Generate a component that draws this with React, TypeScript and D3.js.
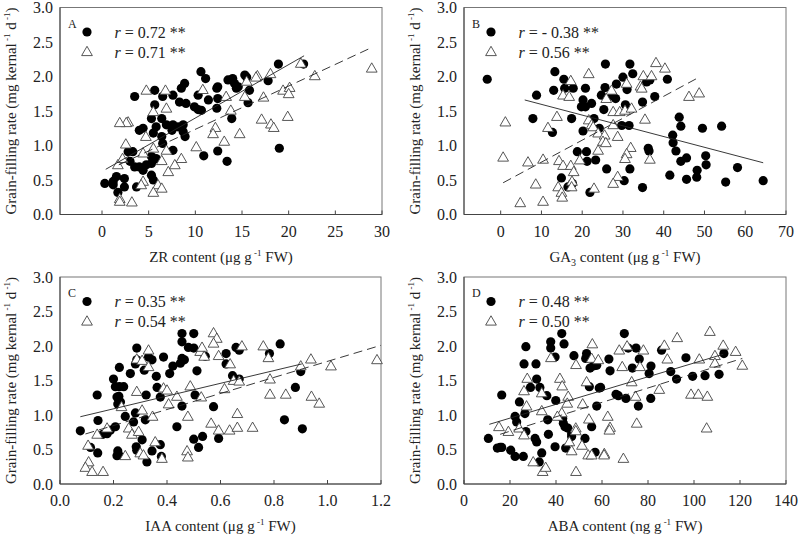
import React from "react";
import * as d3 from "d3";

// ---------- Data ----------
const aFilled: [number, number][] = [
  [3.5,1.71],[5.65,1.80],[5.65,1.59],[6.5,1.71],[7.6,1.73],[8.5,1.83],[8.85,1.90],[8.3,1.63],[9.0,1.61],
  [4.0,1.22],[4.4,1.25],[5.3,1.39],[6.4,1.39],[5.8,1.27],[5.5,1.18],[6.9,1.30],[6.4,1.13],[7.6,1.30],[8.15,1.27],[8.7,1.30],[7.5,1.22],[8.7,1.20],[8.9,1.13],[6.5,1.03],[7.6,0.93],
  [2.8,0.91],[3.3,0.91],[3.0,0.77],[3.5,0.69],[4.0,0.69],[4.75,0.72],[4.4,0.64],[5.3,0.74],[5.3,0.84],[5.8,0.81],[5.3,0.57],[5.5,0.50],
  [0.3,0.45],[1.2,0.48],[1.55,0.55],[2.4,0.52],[1.2,0.43],[1.7,0.32],[2.4,0.40],[3.7,0.40],
  [10.6,2.07],[11.1,1.97],[10.3,1.73],[11.4,1.66],[12.3,1.83],[12.4,1.85],[12.4,1.68],[12.3,1.54],[9.9,1.56],[10.3,1.52],[10.65,1.51],[13.5,1.95],[14.0,1.97],[14.2,1.90],[14.6,1.85],[14.4,1.83],[15.3,2.02],[15.5,1.99],[15.8,1.80],[15.65,1.62],[17.8,1.94],[18.9,2.18],[21.6,2.18],[13.9,1.39],[10.9,0.85],[12.4,0.92],[13.4,0.77],[19.0,0.96]
];
const aOpen: [number, number][] = [
  [4.75,1.80],[6.8,1.80],[6.9,1.54],[5.5,1.49],[2.8,1.34],[2.6,1.33],[1.9,1.33],[4.7,1.13],[5.5,0.96],[2.55,1.02],[1.7,0.72],[2.2,0.81],[4.4,0.89],[6.9,0.93],[6.4,0.78],[7.1,0.62],[8.5,0.81],[7.8,0.72],[4.4,0.48],[4.2,0.43],[6.0,0.43],[6.4,0.38],[5.5,0.32],[1.9,0.23],[1.9,0.19],[3.2,0.18],[10.1,0.98],
  [10.8,1.81],[13.3,1.71],[15.3,1.71],[17.3,1.70],[16.65,2.01],[16.5,1.99],[18.05,2.04],[15.5,1.93],[21.3,2.19],[22.8,2.01],[19.4,1.80],[20.1,1.84],[20.0,1.75],[13.8,1.51],[12.15,1.26],[11.9,1.17],[14.75,1.17],[17.1,1.38],[18.1,1.31],[18.4,1.26],[19.9,1.42],[13.1,1.06],[28.9,2.12]
];
const aSolid: [number, number][] = [[0.4,0.655],[21.65,2.30]];
const aDashed: [number, number][] = [[1.8,0.72],[28.9,2.42]];

const bFilled: [number, number][] = [
  [-3.3,1.96],[8.8,1.73],[7.9,1.39],[12.7,1.19],[13.3,2.07],[13.0,1.80],[15.5,1.96],[15.7,1.83],[17.8,1.83],[17.4,1.39],[20.8,1.83],[20.2,1.66],[20.8,1.56],[19.8,1.56],[22.3,1.61],[22.9,1.39],[20.2,1.21],[24.2,1.25],[18.8,0.91],[21.05,0.91],[21.2,0.77],[23.3,0.79],[14.9,0.53],[16.5,0.40],[17.6,0.45],[21.9,0.32],[24.7,1.73],
  [25.7,2.18],[31.7,2.18],[32.4,2.04],[30.0,1.99],[28.4,1.89],[31.0,1.81],[25.6,1.84],[27.4,1.72],[28.2,1.68],[35.8,1.92],[36.6,1.95],[40.9,1.96],[37.8,1.71],[34.8,1.63],[30.6,1.59],[25.3,1.52],[29.7,1.29],[31.5,1.29],[43.8,1.41],[44.2,1.28],[49.5,1.25],[54.2,1.28],[42.2,1.15],[42.3,1.04],[43.0,0.92],[36.2,0.96],[36.4,0.92],[44.2,0.77],[45.6,0.82],[50.3,0.85],[50.4,0.72],[48.2,0.64],[48.1,0.54],[45.6,0.51],[41.5,0.57],[55.2,0.47],[58.1,0.68],[26.0,0.66],[31.7,0.66],[30.3,0.49],[34.8,0.39],[64.4,0.49]
];
const bOpen: [number, number][] = [
  [1.15,1.34],[0.6,0.83],[6.7,0.76],[10.4,0.80],[8.6,0.44],[4.8,0.17],[10.4,0.19],[13.8,1.42],[11.6,1.26],[15.3,1.73],[16.8,1.71],[17.2,1.94],[21.6,2.04],[14.3,0.78],[15.3,0.71],[17.2,0.71],[17.9,0.62],[19.4,0.79],[14.1,0.40],[14.9,0.32],[15.1,0.25],[17.5,0.48],[17.4,0.40],[22.9,0.38],[21.6,1.37],[22.3,1.30],[22.7,1.27],[23.9,1.18],[23.9,0.93],
  [38.1,2.20],[40.3,2.12],[35.0,2.01],[37.0,2.01],[34.3,1.86],[34.6,1.83],[30.9,1.90],[27.2,1.80],[25.9,1.68],[46.2,1.71],[48.7,1.76],[27.6,1.49],[29.2,1.49],[30.5,1.51],[32.1,1.54],[35.4,1.38],[27.6,1.30],[25.5,1.15],[25.1,1.06],[25.8,1.04],[28.7,1.13],[31.9,0.97],[30.9,0.88],[30.5,0.81],[36.6,0.80],[28.7,0.55],[27.6,0.45]
];
const bSolid: [number, number][] = [[5.9,1.66],[64.4,0.75]];
const bDashed: [number, number][] = [[0.6,0.46],[48.7,1.99]];

const cFilled: [number, number][] = [
  [0.076,0.77],[0.114,0.53],[0.141,0.45],[0.139,1.29],[0.142,0.92],[0.16,0.72],[0.176,0.73],[0.188,0.78],[0.207,0.83],[0.20,1.52],[0.207,1.41],[0.22,1.27],[0.222,1.41],[0.222,1.69],[0.213,1.26],[0.226,1.19],[0.216,1.16],[0.238,1.41],[0.244,0.98],[0.216,0.48],[0.22,0.42],[0.213,0.41],[0.263,1.60],[0.282,1.74],[0.287,1.97],[0.287,1.80],[0.282,1.03],[0.275,0.90],[0.285,0.54],[0.287,0.49],[0.315,1.65],[0.322,1.29],[0.319,0.93],[0.307,0.64],[0.325,0.32],[0.331,1.84],[0.344,1.80],[0.344,0.48],[0.36,1.56],[0.363,1.40],[0.375,1.26],[0.387,1.84],[0.375,0.57],[0.379,0.40],[0.41,1.60],[0.422,1.71],[0.437,0.83],[0.45,1.75],[0.456,1.82],[0.465,1.80],[0.456,2.06],[0.456,2.18],[0.456,1.13],[0.50,2.18],[0.50,1.97],[0.48,1.98],[0.512,1.64],[0.505,1.29],[0.50,0.65],[0.518,0.53],
  [0.543,1.85],[0.574,1.12],[0.533,0.69],[0.593,0.66],[0.621,1.89],[0.621,1.74],[0.658,1.98],[0.67,1.94],[0.645,1.57],[0.67,1.52],[0.783,1.89],[0.823,2.03],[0.839,0.93],[0.88,1.40],[0.90,1.63],[0.906,0.80]
];
const cOpen: [number, number][] = [
  [0.331,1.94],[0.287,1.81],[0.307,1.79],[0.331,1.70],[0.287,1.34],[0.387,1.39],[0.40,1.36],[0.406,1.16],[0.437,1.27],[0.487,1.42],[0.478,0.98],[0.23,1.12],[0.307,1.07],[0.346,0.98],[0.176,0.81],[0.139,0.72],[0.257,0.81],[0.269,0.72],[0.294,0.76],[0.105,0.56],[0.356,0.61],[0.244,0.41],[0.30,0.45],[0.312,0.42],[0.381,0.37],[0.107,0.32],[0.095,0.24],[0.12,0.18],[0.161,0.18],[0.475,0.48],[0.478,0.39],[0.524,1.92],
  [0.574,2.19],[0.586,2.11],[0.574,2.04],[0.531,1.98],[0.539,1.85],[0.593,1.86],[0.68,2.00],[0.76,2.00],[0.636,1.74],[0.779,1.83],[0.528,1.26],[0.615,1.38],[0.649,1.50],[0.67,1.49],[0.785,1.52],[0.785,1.30],[0.844,1.30],[0.94,1.27],[0.969,1.17],[0.938,1.81],[0.90,1.71],[1.013,1.71],[0.663,1.02],[0.565,0.88],[0.593,0.78],[0.634,0.78],[0.663,0.82],[0.72,0.82],[1.185,1.80]
];
const cSolid: [number, number][] = [[0.076,0.975],[0.904,1.74]];
const cDashed: [number, number][] = [[0.095,0.725],[1.2,2.01]];

const dFilled: [number, number][] = [
  [10.6,0.66],[14.5,0.52],[15.7,0.53],[16.4,0.53],[16.4,1.29],[20.3,0.49],[22.2,0.40],[25.8,0.40],[22.2,0.98],[22.9,0.90],[24.1,1.19],[26.5,1.02],[26.9,0.76],[26.9,1.99],[26.1,1.74],[31.3,1.74],[31.6,1.52],[28.9,1.40],[33.0,1.40],[30.9,0.66],[31.6,0.61],[33.8,0.45],[32.7,0.32],[36.0,1.28],[36.4,0.93],[36.7,0.72],[39.9,1.21],[39.6,0.54],[37.7,2.06],[37.7,1.97],[39.6,1.84],[42.5,2.18],[43.5,2.03],[42.9,0.95],[43.2,0.88],[43.9,0.83],[45.1,0.81],[46.8,0.73],[46.8,0.69],[44.2,0.52],[47.8,1.86],[52.6,0.66],[53.3,1.89],[52.9,1.82],[54.5,1.41],[55.5,0.83],[57.0,0.46],[54.8,1.68],[56.2,1.71],[57.7,1.72],[57.7,1.13],[58.8,1.39],
  [59.4,1.40],[63.0,1.81],[63.5,1.64],[66.1,1.30],[67.1,1.28],[70.4,1.24],[69.7,2.18],[71.4,1.97],[74.8,1.97],[76.2,1.81],[73.2,1.68],[75.8,1.13],[81.3,1.71],[80.5,1.60],[81.2,1.24],[85.9,1.94],[89.9,1.63],[92.4,1.52],[96.5,1.83],[99.4,1.56],[104.8,1.57],[110.9,1.59],[113.0,1.89]
];
const dOpen: [number, number][] = [
  [15.2,0.83],[19.3,0.76],[24.0,0.81],[26.1,0.71],[27.5,1.53],[26.1,1.35],[27.2,1.13],[33.8,1.32],[33.8,1.06],[30.1,0.32],[34.2,0.18],[35.5,0.24],[37.8,1.83],[41.7,1.53],[42.7,1.42],[45.3,1.27],[44.9,1.17],[42.5,1.03],[40.6,0.98],[48.6,0.81],[48.6,0.77],[45.8,0.61],[46.8,0.48],[48.7,0.18],[48.7,1.73],[51.6,1.16],[51.3,0.56],[54.0,0.42],[55.5,0.42],[54.3,0.94],[55.8,2.03],[55.5,1.82],[53.3,1.48],[58.4,1.80],
  [67.5,1.94],[70.9,2.00],[78.0,1.94],[68.8,1.70],[76.5,1.70],[72.9,1.48],[74.6,1.27],[84.9,1.37],[62.5,0.98],[63.5,0.82],[63.2,0.78],[75.1,0.88],[61.0,0.44],[60.9,0.42],[69.3,0.37],[87.1,2.01],[92.7,2.12],[88.4,1.81],[102.3,1.81],[106.9,2.21],[112.7,2.01],[109.1,1.86],[109.1,1.75],[118.1,1.92],[121.0,1.72],[98.7,1.30],[101.9,1.30],[105.8,1.27],[105.5,0.81]
];
const dSolid: [number, number][] = [[11.0,0.865],[112.7,1.88]];
const dDashed: [number, number][] = [[15.7,0.72],[121.0,1.82]];

const yTicks = [0, 0.5, 1.0, 1.5, 2.0, 2.5, 3.0];
const aXTicks = [0, 5, 10, 15, 20, 25, 30];
const bXTicks = [0, 10, 20, 30, 40, 50, 60, 70];
const cXTicks = [0, 0.2, 0.4, 0.6, 0.8, 1.0, 1.2];
const dXTicks = [0, 20, 40, 60, 80, 100, 120, 140];
const panelLabels = ["A", "B", "C", "D"];
const rFilled = ["0.72", "- 0.38", "0.35", "0.48"];
const rOpen = ["0.71", "0.56", "0.54", "0.50"];
const xTitlePrefix = ["ZR", "GA", "IAA", "ABA"];
const xTitleUnit = ["μg", "μg", "μg", "ng"];

// ---------- Layout ----------
const FONT = "'Liberation Serif', 'Times New Roman', serif";
const frames = [
  { left: 60, right: 382, top: 7.5, bottom: 214.5 },
  { left: 464, right: 786, top: 7.5, bottom: 214.5 },
  { left: 60, right: 381, top: 277, bottom: 484 },
  { left: 464, right: 786, top: 277, bottom: 484 },
];
const xDomains: [number, number][] = [[-4.5, 30], [-9, 70], [0, 1.2], [0, 140]];
const xTickSets = [aXTicks, bXTicks, cXTicks, dXTicks];
const xFormats = [d3.format("d"), d3.format("d"), d3.format(".1f"), d3.format("d")];
const filledSets = [aFilled, bFilled, cFilled, dFilled];
const openSets = [aOpen, bOpen, cOpen, dOpen];
const solidSets = [aSolid, bSolid, cSolid, dSolid];
const dashedSets = [aDashed, bDashed, cDashed, dDashed];

const tri = d3.symbol().type(d3.symbolTriangle).size(50)() as string;
const R = 4.6;

function Panel({ i }: { i: number }) {
  const f = frames[i];
  const x = d3.scaleLinear().domain(xDomains[i]).range([f.left, f.right]);
  const y = d3.scaleLinear().domain([0, 3]).range([f.bottom, f.top]);
  const line = d3.line<[number, number]>().x((d) => x(d[0])).y((d) => y(d[1]));
  const cx = (f.left + f.right) / 2;
  const cy = (f.top + f.bottom) / 2;
  return (
    <g fontFamily={FONT} fill="#222">
      <rect x={f.left} y={f.top} width={f.right - f.left} height={f.bottom - f.top} fill="none" stroke="#777" strokeWidth={1} />
      <line x1={f.left} x2={f.right} y1={f.bottom} y2={f.bottom} stroke="#444" strokeWidth={1} />
      <line x1={f.left} x2={f.left} y1={f.top} y2={f.bottom} stroke="#444" strokeWidth={1} />
      {xTickSets[i].map((t) => (
        <g key={"xt" + t}>
          <line x1={x(t)} x2={x(t)} y1={f.bottom} y2={f.bottom - 4} stroke="#444" strokeWidth={1} />
          <text x={x(t)} y={f.bottom + 22} textAnchor="middle" fontSize={16}>{xFormats[i](t)}</text>
        </g>
      ))}
      {yTicks.map((t) => (
        <text key={"yt" + t} x={f.left - 7} y={y(t) + 5.5} textAnchor="end" fontSize={16}>{d3.format(".1f")(t)}</text>
      ))}
      <text transform={`translate(${f.left - 44},${cy}) rotate(-90)`} textAnchor="middle" fontSize={15}>
        Grain-filling rate (mg kernal
        <tspan fontSize={9} dy={-6}> -1</tspan>
        <tspan dy={6}> d</tspan>
        <tspan fontSize={9} dy={-6}> -1</tspan>
        <tspan dy={6}>)</tspan>
      </text>
      <text x={cx} y={f.bottom + 47} textAnchor="middle" fontSize={15}>
        {xTitlePrefix[i]}
        {i === 1 ? <tspan fontSize={10} dy={4}>3</tspan> : null}
        <tspan dy={i === 1 ? -4 : 0}> content ({xTitleUnit[i]} g</tspan>
        <tspan fontSize={9} dy={-6}> -1</tspan>
        <tspan dy={6}> FW)</tspan>
      </text>
      {filledSets[i].map((d, k) => (
        <circle key={"f" + k} cx={x(d[0])} cy={y(d[1])} r={R} fill="#000" />
      ))}
      {openSets[i].map((d, k) => (
        <path key={"o" + k} d={tri} transform={`translate(${x(d[0])},${y(d[1]) + 0.8})`} fill="#fff" stroke="#444" strokeWidth={0.9} />
      ))}
      <path d={line(solidSets[i]) as string} fill="none" stroke="#222" strokeWidth={0.9} />
      <path d={line(dashedSets[i]) as string} fill="none" stroke="#222" strokeWidth={0.9} strokeDasharray="9,5" />
      <text x={f.left + 8} y={f.top + 20} fontSize={12}>{panelLabels[i]}</text>
      <circle cx={f.left + 27} cy={f.top + 24.5} r={R} fill="#000" />
      <path d={tri} transform={`translate(${f.left + 27},${f.top + 45})`} fill="#fff" stroke="#444" strokeWidth={0.9} />
      <text x={f.left + 54.5} y={f.top + 30} fontSize={16}>
        <tspan fontStyle="italic">r</tspan> = {rFilled[i]} **
      </text>
      <text x={f.left + 54.5} y={f.top + 50} fontSize={16}>
        <tspan fontStyle="italic">r</tspan> = {rOpen[i]} **
      </text>
    </g>
  );
}

export default function App() {
  return (
    <svg width={800} height={537} viewBox="0 0 800 537" style={{ position: "absolute", left: 0, top: 0, background: "#fff" }}>
      <rect x={0} y={0} width={800} height={537} fill="#fff" />
      {[0, 1, 2, 3].map((i) => (
        <Panel key={i} i={i} />
      ))}
    </svg>
  );
}
